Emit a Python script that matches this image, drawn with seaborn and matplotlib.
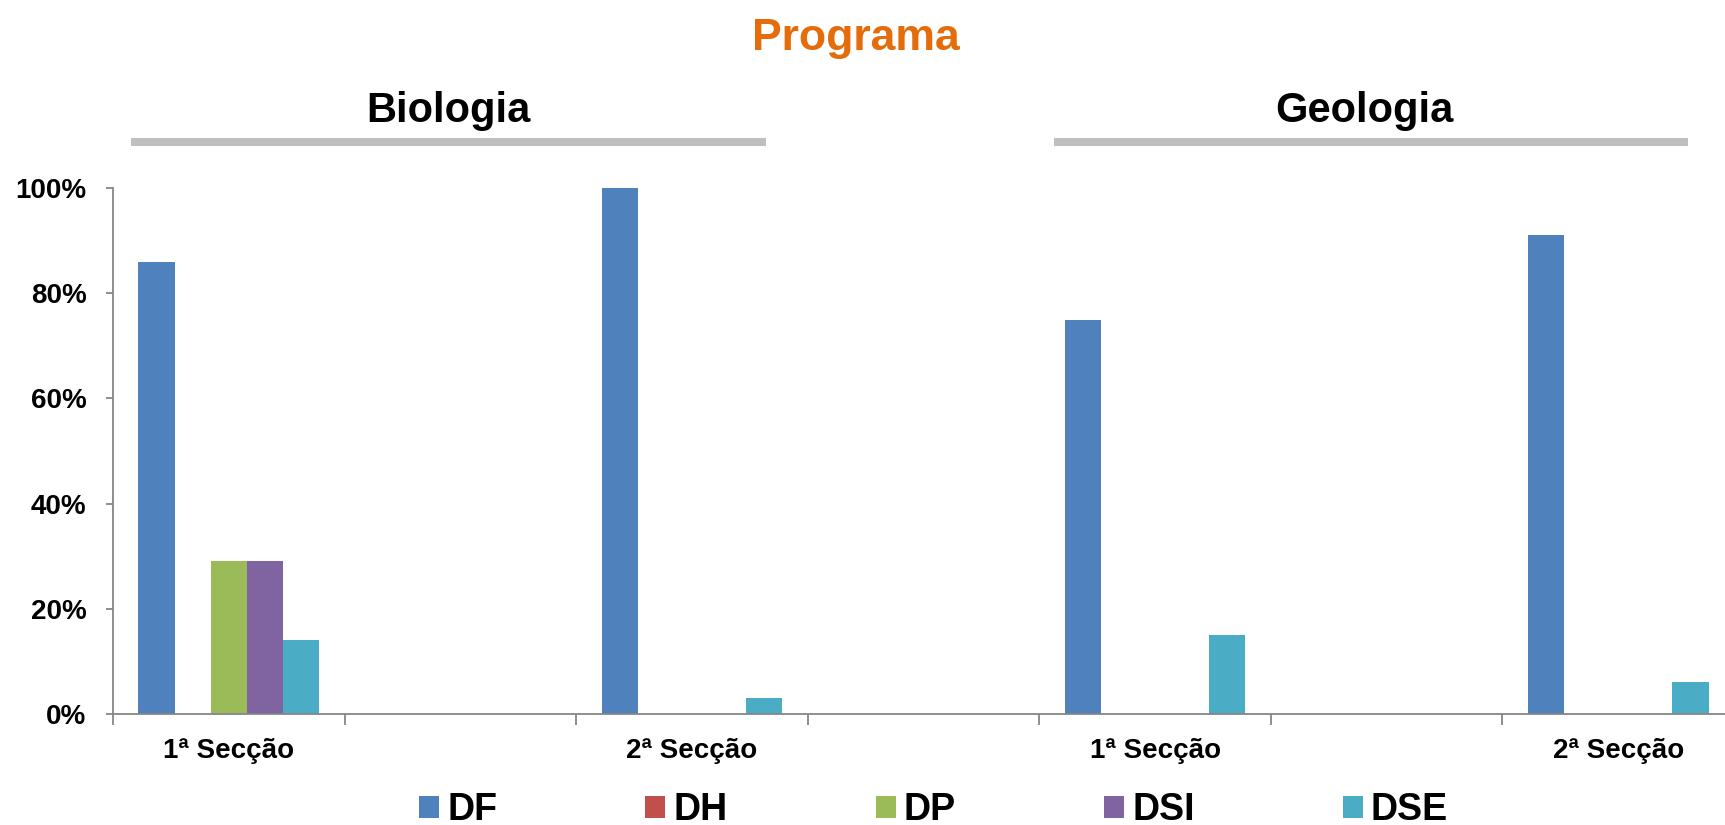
import matplotlib
matplotlib.use("Agg")
import matplotlib.pyplot as plt
from matplotlib.lines import Line2D
from matplotlib.ticker import FixedLocator, PercentFormatter
import seaborn as sns
import pandas as pd

# ---- data ----
categories = ["bio1", "gap1", "bio2", "gap2", "geo1", "gap3", "geo2"]
category_labels = ["1ª Secção", "", "2ª Secção", "", "1ª Secção", "", "2ª Secção"]
series = ["DF", "DH", "DP", "DSI", "DSE"]
data_categories = ["bio1", "bio2", "geo1", "geo2"]
DF = [0.86, 1.00, 0.75, 0.91]
DH = [0.00, 0.00, 0.00, 0.00]
DP = [0.29, 0.00, 0.00, 0.00]
DSI = [0.29, 0.00, 0.00, 0.00]
DSE = [0.14, 0.03, 0.15, 0.06]
colors = ["#4F81BD", "#C0504D", "#9BBB59", "#8064A2", "#4BACC6"]
yticks = [0, 0.2, 0.4, 0.6, 0.8, 1.0]

rows = []
for name, vals in zip(series, [DF, DH, DP, DSI, DSE]):
    for c, v in zip(data_categories, vals):
        rows.append({"cat": c, "serie": name, "val": v})
df = pd.DataFrame(rows)

sns.set_theme(style="white")
plt.rcParams["font.family"] = ["Liberation Sans", "DejaVu Sans"]
plt.rcParams["font.weight"] = "bold"
plt.rcParams["text.color"] = "black"
plt.rcParams["xtick.labelcolor"] = "black"
plt.rcParams["ytick.labelcolor"] = "black"

W, H = 1725, 825
fig = plt.figure(figsize=(W / 100, H / 100), dpi=100)
# axes: x from 113 px to 1734 px (extends slightly past the figure), y from 714 to 188 px
ax = fig.add_axes([113 / W, (H - 714) / H, (1734 - 113) / W, (714 - 188) / H])

sns.barplot(data=df, x="cat", y="val", hue="serie", order=categories,
            hue_order=series, palette=colors, width=0.78, gap=0,
            linewidth=0, saturation=1, ax=ax, legend=True, errorbar=None)

ax.set_xlim(-0.5, len(categories) - 0.5)
ax.set_ylim(0, 1.0)
ax.set_xlabel("")
ax.set_ylabel("")

spine_col = "#868686"
for s in ["top", "right"]:
    ax.spines[s].set_visible(False)
for s in ["left", "bottom"]:
    ax.spines[s].set_color(spine_col)
    ax.spines[s].set_linewidth(1.3)

ax.yaxis.set_major_locator(FixedLocator(yticks))
ax.yaxis.set_major_formatter(PercentFormatter(1.0, decimals=0))
ax.tick_params(axis="y", which="major", left=True, length=5, width=1.3,
               color=spine_col, pad=14, labelsize=20, labelcolor="black")
for lbl in ax.get_yticklabels():
    lbl.set_fontweight("bold")

ax.set_xticks(range(len(categories)))
ax.set_xticklabels(category_labels, fontsize=20, fontweight="bold", color="black")
ax.set_xticks([i - 0.5 for i in range(len(categories) + 1)], minor=True)
ax.tick_params(axis="x", which="major", bottom=True, length=0, pad=17,
               labelcolor="black")
ax.tick_params(axis="x", which="minor", bottom=True, length=8, width=1.3,
               color=spine_col)

# legend at the bottom
handles, labels = ax.get_legend_handles_labels()
ax.get_legend().remove()
leg = fig.legend(handles, labels, loc="center left",
                 bbox_to_anchor=(419 / W, (H - 810) / H), ncol=5, frameon=False,
                 prop={"weight": "bold", "size": 27},
                 handlelength=0.53, handleheight=0.53, handletextpad=0.22,
                 columnspacing=3.95, borderpad=0, borderaxespad=0)
for t in leg.get_texts():
    t.set_color("black")

# headers
fig.text(856 / W, 1 - 50 / H, "Programa", ha="center", va="baseline",
         fontsize=32, fontweight="bold", color="#E46C0A")
fig.text(448 / W, 1 - 122 / H, "Biologia", ha="center", va="baseline",
         fontsize=30, fontweight="bold", color="black")
fig.text(1364 / W, 1 - 122 / H, "Geologia", ha="center", va="baseline",
         fontsize=30, fontweight="bold", color="black")
for x0, x1 in [(131, 766), (1054, 1688)]:
    fig.add_artist(Line2D([x0 / W, x1 / W], [1 - 142 / H, 1 - 142 / H],
                          transform=fig.transFigure, color="#BFBFBF",
                          linewidth=5.8, solid_capstyle="butt"))

fig.savefig("out.png", dpi=100)
